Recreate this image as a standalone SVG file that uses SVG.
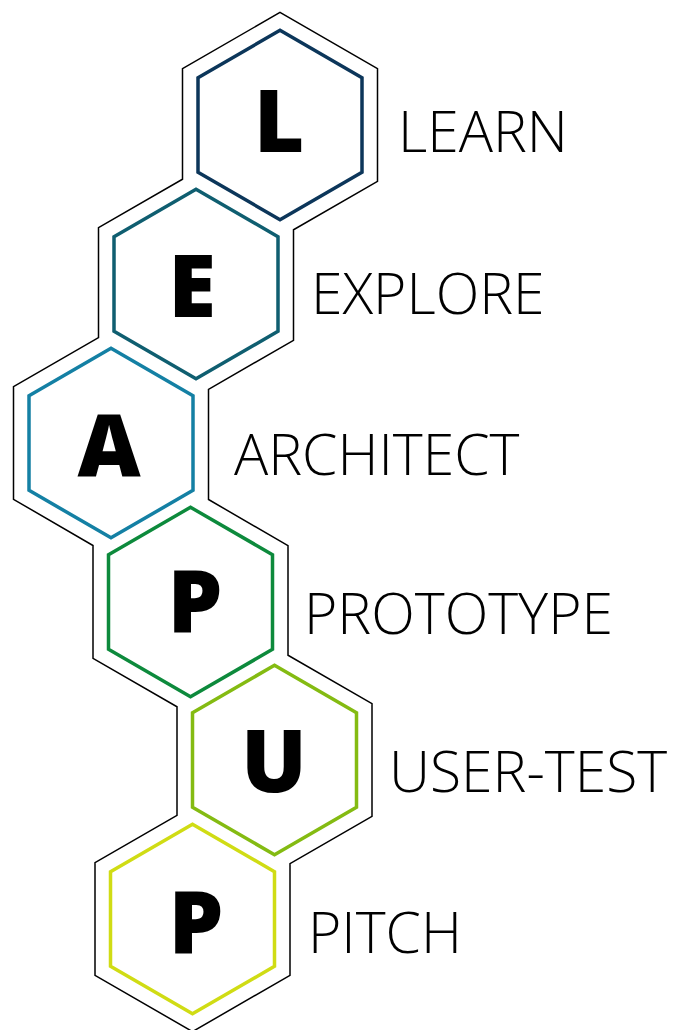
<svg xmlns="http://www.w3.org/2000/svg" width="675" height="1030" viewBox="0 0 675 1030">
<style>
.hex{fill:none;stroke-width:3.5;stroke-linejoin:miter}
.big{font-family:"Open Sans","Liberation Sans",sans-serif;font-weight:800;font-size:87px;fill:#000;text-anchor:middle}
.lbl{font-family:"Open Sans","Liberation Sans",sans-serif;font-weight:300;font-size:57px;fill:#000}
.outline{fill:none;stroke:#000;stroke-width:1.5;stroke-linejoin:miter}
</style>
<defs>
<polygon id="h" points="0,-94.7 82,-47.35 82,47.35 0,94.7 -82,47.35 -82,-47.35"/>
</defs>
<g id="outline">
<path class="outline" d="M280,12.4 L377.5,68.7 L377.5,181.3 L293.5,229.8 L293.5,340.3 L208.5,389.4 L208.5,499.5 L288,545.7 L288,655.2 L372,703.7 L372,816.3 L290,863.6 L290,975.3 L192.5,1031.6 L95,975.3 L95,862.7 L177,815.4 L177,706.8 L93,658.3 L93,545.5 L13.5,499.3 L13.5,386.7 L98.5,337.6 L98.5,227.7 L182.5,179.2 L182.5,68.7 Z"/>
</g>
<g id="node-L">
<use href="#h" class="hex" x="280" y="125" stroke="#0c365a"/>
<text class="big" x="279" y="152">L</text>
<text class="lbl" x="398" y="152">LEARN</text>
</g>
<g id="node-E">
<use href="#h" class="hex" x="196" y="284" stroke="#0f5e70"/>
<text class="big" x="192" y="317">E</text>
<text class="lbl" x="311" y="314">EXPLORE</text>
</g>
<g id="node-A">
<use href="#h" class="hex" x="111" y="443" stroke="#1480a4"/>
<text class="big" x="109" y="477">A</text>
<text class="lbl" x="234" y="475">ARCHITECT</text>
</g>
<g id="node-P">
<use href="#h" class="hex" x="190.5" y="602" stroke="#0d8a3c"/>
<text class="big" x="195" y="633">P</text>
<text class="lbl" x="304" y="634">PROTOTYPE</text>
</g>
<g id="node-U">
<use href="#h" class="hex" x="274.5" y="760" stroke="#84bb12"/>
<text class="big" x="274" y="792">U</text>
<text class="lbl" x="389" y="792">USER-TEST</text>
</g>
<g id="node-P2">
<use href="#h" class="hex" x="192.5" y="919" stroke="#d0dc14"/>
<text class="big" x="196" y="954">P</text>
<text class="lbl" x="308" y="953">PITCH</text>
</g>
</svg>
